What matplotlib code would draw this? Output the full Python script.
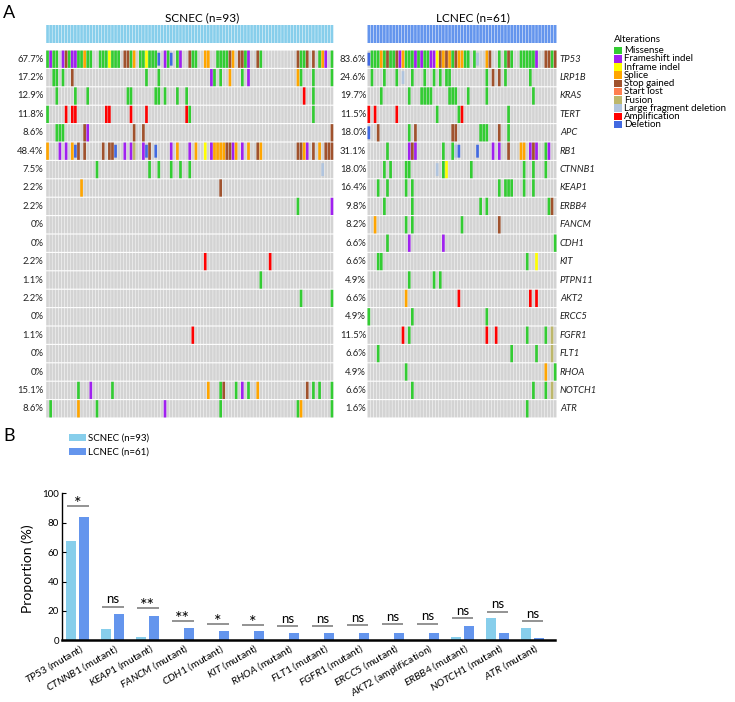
import matplotlib.pyplot as plt
from matplotlib.patches import Rectangle
import numpy as np

plt.rcParams['font.family'] = ['Lato', 'DejaVu Sans']
plt.rcParams['mathtext.fontset'] = 'custom'
plt.rcParams['mathtext.rm'] = 'Lato'
plt.rcParams['mathtext.it'] = 'Lato:italic'

W, H = 735, 702

# ---------------- panel A data ----------------
genes = ["TP53", "LRP1B", "KRAS", "TERT", "APC", "RB1", "CTNNB1", "KEAP1", "ERBB4", "FANCM",
         "CDH1", "KIT", "PTPN11", "AKT2", "ERCC5", "FGFR1", "FLT1", "RHOA", "NOTCH1", "ATR"]
scnec_pct = ["67.7%", "17.2%", "12.9%", "11.8%", "8.6%", "48.4%", "7.5%", "2.2%", "2.2%", "0%",
             "0%", "2.2%", "1.1%", "2.2%", "0%", "1.1%", "0%", "0%", "15.1%", "8.6%"]
lcnec_pct = ["83.6%", "24.6%", "19.7%", "11.5%", "18.0%", "31.1%", "18.0%", "16.4%", "9.8%", "8.2%",
             "6.6%", "6.6%", "4.9%", "6.6%", "4.9%", "11.5%", "6.6%", "4.9%", "6.6%", "1.6%"]
n_scnec, n_lcnec = 93, 61

# sample index + alteration code
# M missense, F frameshift, I inframe, S splice, G stop gained, L start lost,
# U fusion, D large fragment deletion, A amplification, X deletion
scnec_events = {
    "TP53": "0M 1F 2M 3M 5F 6G 7M 8F 9F 10M 11M 12S 13M 14M 17M 18M 19M 20I 21M 22M 23M 25G 26G 27M 28S "
            "30M 31M 32I 33M 34M 35M 36X 38F 39M 40X 42M 43F 46G 47M 48M 51S 52S 55M 56M 57M 58M 59G 60S "
            "62G 63G 64M 65F 68G 69M 81G 82M 83M 84G 86G 88M 89S 90F 92M",
    "LRP1B": "2M 3M 5M 8G 32M 36M 53F 54M 56M 59S 63M 65F 81S 82M 86M 92M",
    "KRAS": "3M 9M 13M 26M 27M 35M 36M 38M 42M 45M 83A 86M",
    "TERT": "0M 6A 8A 9A 19A 20A 27A 32A 45A 46M 86M",
    "APC": "3M 4M 5M 12G 13F 28G 31G 92G",
    "RB1": "0S 4F 6F 8S 9X 10G 12G 18G 20G 21G 22X 25F 27F 28U 31F 32X 33G 35X 40F 42S 46F 48S 51I "
           "53F 54S 55S 56S 57S 58G 59G 60F 61S 63F 65S 68G 69S 81G 82G 83S 84F 86G 88S 90G 91G 92G",
    "CTNNB1": "16M 33M 36M 40M 43M 46M 89D",
    "KEAP1": "11S 56G",
    "ERBB4": "81M 92F",
    "FANCM": "",
    "CDH1": "",
    "KIT": "51A 72A",
    "PTPN11": "69M",
    "AKT2": "82M 92M",
    "ERCC5": "",
    "FGFR1": "47A",
    "FLT1": "",
    "RHOA": "",
    "NOTCH1": "10M 14F 21M 52S 56M 57G 61M 63F 65M 68S 84G 86M 88M 92M",
    "ATR": "1M 10S 16M 38F 56M 81M 82S 92M",
}
lcnec_events = {
    "TP53": "0X 1M 2M 3M 4S 5M 6G 7M 8M 9G 10F 11S 12M 13M 14M 15F 16M 17F 18M 19M 20F 21F 22I 23G "
            "24S 25G 26S 27M 28G 29S 30S 31M 32M 34M 35D 38S 39G 42M 44M 45G 46M 49M 50M 51M 52M 53M "
            "54F 57G 58G 59M 60G",
    "LRP1B": "1M 5M 9M 11D 14M 18M 21M 23M 25M 26M 38M 40G 42G 44M 52M",
    "KRAS": "4M 13M 17M 18M 19M 20M 26M 27M 28M 32M 38M 53M",
    "TERT": "0A 2A 9A 22M 29M 30A 45M",
    "APC": "0X 3G 13M 15G 27G 28G 36M 37M 38M 42G 45M",
    "RB1": "6M 13F 14G 15F 24M 27M 28D 29X 35X 40F 42F 45G 49S 50S 52F 53G 54F 57M 58F",
    "CTNNB1": "5M 7M 12M 13M 22D 24M 25I 33M 50M 53M 57M",
    "KEAP1": "3M 6M 12M 14M 42M 44M 45M 46M 50M 53M",
    "ERBB4": "5M 14M 36M 38M 58M 59G",
    "FANCM": "2S 12M 14M 30M 42G",
    "CDH1": "6M 13F 24F 60M",
    "KIT": "3M 4M 51M 54I",
    "PTPN11": "13M 21M 23M",
    "AKT2": "12S 29A 52A 54A",
    "ERCC5": "0M 14M 38M",
    "FGFR1": "11A 13M 38A 41A 51M 57M 59U",
    "FLT1": "3M 46M 54M 59U",
    "RHOA": "12M 57S 60M",
    "NOTCH1": "14M 53M 57M 59U",
    "ATR": "51M",
}

alt_names = ["Missense", "Frameshift indel", "Inframe indel", "Splice", "Stop gained", "Start lost",
             "Fusion", "Large fragment deletion", "Amplification", "Deletion"]
alt_codes = ["M", "F", "I", "S", "G", "L", "U", "D", "A", "X"]
alt_colors = ["#33cc33", "#a020f0", "#ffff00", "#ffa500", "#a0522d", "#ff7f50",
              "#bdb76b", "#b0c4de", "#ff0000", "#4169e1"]

# ---------------- panel B data ----------------
bar_genes = ["TP53", "CTNNB1", "KEAP1", "FANCM", "CDH1", "KIT", "RHOA", "FLT1", "FGFR1", "ERCC5",
             "AKT2", "ERBB4", "NOTCH1", "ATR"]
bar_kind = ["mutant"] * 10 + ["amplification"] + ["mutant"] * 3
scnec_bar = [67.7, 7.5, 2.2, 0, 0, 0, 0, 0, 0, 0, 0, 2.2, 15.1, 8.6]
lcnec_bar = [83.6, 18.0, 16.4, 8.2, 6.6, 6.6, 4.9, 4.9, 4.9, 4.9, 4.9, 9.8, 4.9, 1.6]
sig_labels = ["*", "ns", "**", "**", "*", "*", "ns", "ns", "ns", "ns", "ns", "ns", "ns", "ns"]
sig_heights = [91.7, 22.9, 22.2, 13.2, 10.9, 10.3, 9.4, 9.9, 10.1, 10.8, 11.4, 15.0, 19.5, 13.2]

SC_COLOR = "#87ceeb"
LC_COLOR = "#6495ed"
GRAY = "#d3d3d3"

fig = plt.figure(figsize=(W / 100, H / 100), dpi=100)


def px_axes(x0, y0, x1, y1):
    # axes placed by pixel box (top-left origin)
    return fig.add_axes([x0 / W, 1 - y1 / H, (x1 - x0) / W, (y1 - y0) / H])


def draw_oncoprint(ax, top_ax, n, events, pcts, color, pct_x, show_genes):
    cols = np.arange(n)
    rows = np.arange(len(genes))
    cell_w, cell_h = 0.86, 0.94
    ax.bar(np.tile(cols, len(rows)), cell_h, bottom=np.repeat(rows, n) - cell_h / 2,
           width=cell_w, color=GRAY, linewidth=0, snap=False)
    for code, c in zip(alt_codes, alt_colors):
        xs, ys = [], []
        for r, g in enumerate(genes):
            for tok in events[g].split():
                if tok[-1] == code:
                    xs.append(int(tok[:-1]))
                    ys.append(r)
        if not xs:
            continue
        h = 0.7 if code in ("X", "D") else cell_h
        ax.bar(xs, h, bottom=np.array(ys) - h / 2, width=cell_w, color=c, linewidth=0, snap=False)
    ax.set_xlim(-0.5, n - 0.5)
    ax.set_ylim(len(genes) - 0.5, -0.5)
    ax.axis('off')
    for r, p in enumerate(pcts):
        ax.text(pct_x, r, p, transform=ax.get_yaxis_transform(), ha='right', va='center',
                fontsize=6.8, color='#222222')
    if show_genes:
        for r, g in enumerate(genes):
            ax.text(1.017, r, g, transform=ax.get_yaxis_transform(), ha='left', va='center',
                    fontsize=6.8, style='italic', color='#222222')
    top_ax.bar(cols, 1, width=0.86, color=color, linewidth=0, snap=False)
    top_ax.set_xlim(-0.5, n - 0.5)
    top_ax.set_ylim(0, 1)
    top_ax.axis('off')


sc_ax = px_axes(46, 50, 333.5, 418)
lc_ax = px_axes(367.3, 50, 556.7, 418)
sc_top = px_axes(46, 25, 333.5, 43.3)
lc_top = px_axes(367.3, 25, 556.7, 43.3)
draw_oncoprint(sc_ax, sc_top, n_scnec, scnec_events, scnec_pct, SC_COLOR, -0.009, False)
draw_oncoprint(lc_ax, lc_top, n_lcnec, lcnec_events, lcnec_pct, LC_COLOR, -0.006, True)

fig.text(202 / W, 1 - 17.5 / H, f"SCNEC (n={n_scnec})", ha='center', va='center', fontsize=8.5)
fig.text(473 / W, 1 - 17.5 / H, f"LCNEC (n={n_lcnec})", ha='center', va='center', fontsize=8.5)
fig.text(9 / W, 1 - 13.5 / H, "A", ha='center', va='center', fontsize=13)
fig.text(9.5 / W, 1 - 436 / H, "B", ha='center', va='center', fontsize=13)

# alteration legend
leg_ax = px_axes(608, 30, 735, 140)
leg_ax.set_xlim(608, 735)
leg_ax.set_ylim(140, 30)
leg_ax.axis('off')
leg_ax.text(614, 40, "Alterations", ha='left', va='center', fontsize=7)
for i, (name, c) in enumerate(zip(alt_names, alt_colors)):
    y_top = 46.7 + i * 8.23
    leg_ax.add_patch(Rectangle((614, y_top), 7.7, 7.6, color=c, linewidth=0))
    leg_ax.text(624, y_top + 4.0, name, ha='left', va='center', fontsize=7)

# ---------------- panel B ----------------
bx = px_axes(61.7, 493.3, 555, 640.3)
x = np.arange(len(bar_genes))
off, bw = 0.19, 0.286
bx.bar(x - off, scnec_bar, width=bw, color=SC_COLOR, label=f"SCNEC (n={n_scnec})")
bx.bar(x + off, lcnec_bar, width=bw, color=LC_COLOR, label=f"LCNEC (n={n_lcnec})")
for xi, lab, h in zip(x, sig_labels, sig_heights):
    bx.plot([xi - 0.31, xi + 0.31], [h, h], color='#808080', lw=1.2, solid_capstyle='butt')
    if '*' in lab:
        bx.annotate(lab, (xi, h), xytext=(0, -2.2), textcoords='offset points', ha='center',
                    va='baseline', fontsize=13, annotation_clip=False)
    else:
        bx.annotate(lab, (xi, h), xytext=(0, 2.3), textcoords='offset points', ha='center',
                    va='baseline', fontsize=9.5, annotation_clip=False)
bx.set_xlim(-0.457, 13.64)
bx.set_ylim(0, 100)
bx.spines['top'].set_visible(False)
bx.spines['right'].set_visible(False)
bx.spines['bottom'].set_linewidth(1.8)
bx.spines['left'].set_linewidth(1.0)
bx.set_yticks([0, 20, 40, 60, 80, 100])
bx.tick_params(axis='y', direction='in', length=3, labelsize=7, pad=2)
bx.set_xticks(x + 0.14)
bx.set_xticklabels([f"$\\mathit{{{g}}}$ ({k})" for g, k in zip(bar_genes, bar_kind)],
                   rotation=30, ha='right', va='center', rotation_mode='anchor', fontsize=7.5)
bx.tick_params(axis='x', length=0, pad=5)
bx.set_ylabel("Proportion (%)", fontsize=10)
bx.yaxis.set_label_coords(-0.057, 0.49)
fig.legend(loc='upper left', bbox_to_anchor=(69 / W, 1 - 433.5 / H), frameon=False, fontsize=7,
           handlelength=1.7, handleheight=0.75, handletextpad=0.3, labelspacing=0.55,
           borderpad=0, borderaxespad=0)

fig.savefig("out.png", dpi=100)
